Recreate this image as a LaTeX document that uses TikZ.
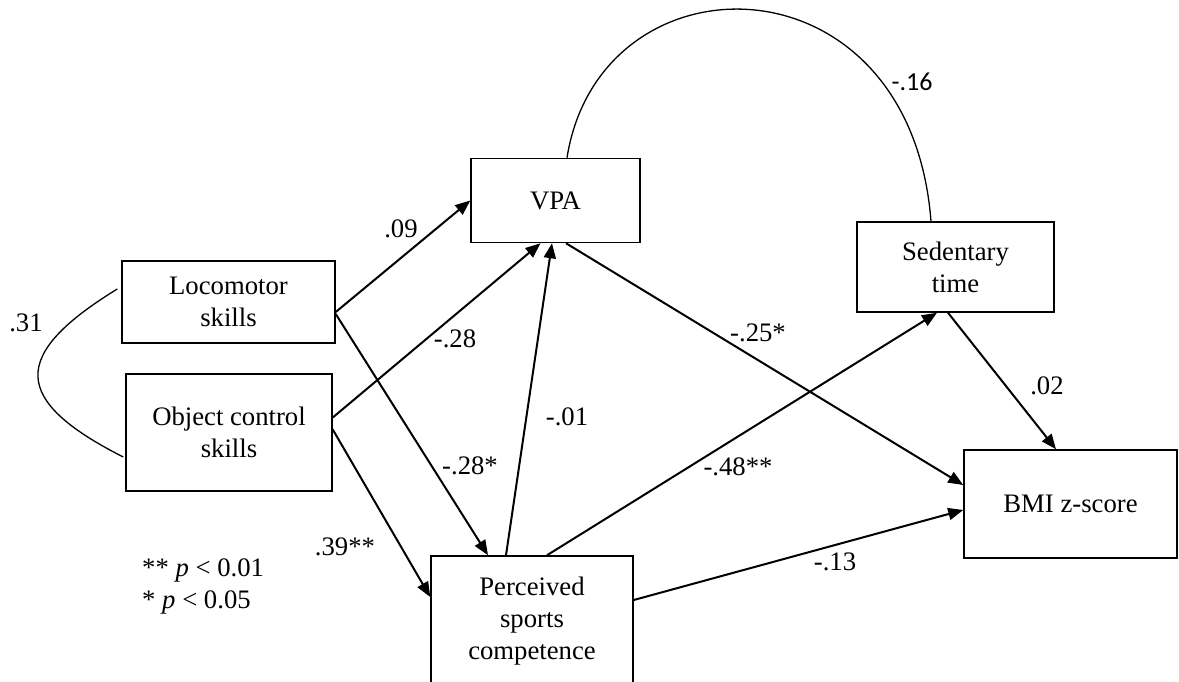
\documentclass[tikz,border=0pt]{standalone}
\usepackage{fontspec}
\setmainfont{Liberation Serif}
\newfontfamily\calibrifont{Carlito}
\usetikzlibrary{arrows.meta}

\begin{document}
\begin{tikzpicture}[x=1pt, y=-1pt,
    every node/.style={font=\fontsize{26.7}{32}\selectfont},
    box/.style={draw, line width=1.5pt, align=center, inner sep=0pt},
    effect/.style={-{Triangle[length=15pt,width=12pt]}, line width=2pt},
    corr/.style={line width=1.3pt}]
	\useasboundingbox (0,0) rectangle (1179,682);
	\clip (0,0) rectangle (1179,682);

	% variables
	\node[box, minimum width=213pt, minimum height=82pt] (loco) at (228.5,302) {Locomotor\\skills};
	\node[box, minimum width=206pt, minimum height=117pt] (obj) at (229,432.5) {Object control\\skills};
	\node[box, minimum width=169pt, minimum height=84pt] (vpa) at (555.5,200.5) {VPA};
	\node[box, minimum width=197pt, minimum height=90pt] (sed) at (955.5,267) {Sedentary\\time};
	\node[box, minimum width=213pt, minimum height=108pt] (bmi) at (1070.5,504) {BMI z-score};
	\node[box, minimum width=202pt, minimum height=130pt] (psc) at (532,621) {Perceived\\sports\\competence};

	% paths
	\draw[effect] ([yshift=-10pt]loco.east) -- (vpa.west);
	\draw[effect] ([yshift=15pt]obj.east) -- ([xshift=-15pt]vpa.south);
	\draw[effect] ([xshift=-26pt]psc.north) -- ([xshift=-3.5pt]vpa.south);
	\draw[effect] ([yshift=-12pt]loco.east) -- ([xshift=-44pt]psc.north);
	\draw[effect] ([yshift=3pt]obj.east) -- ([yshift=24pt]psc.west);
	\draw[effect] ([xshift=10.5pt]vpa.south) -- ([yshift=19pt]bmi.west);
	\draw[effect] ([xshift=15pt]psc.north) -- ([xshift=-18.5pt]sed.south);
	\draw[effect] ([yshift=21pt]psc.east) -- ([yshift=-6pt]bmi.west);
	\draw[effect] ([xshift=-7.5pt]sed.south) -- ([xshift=-14.5pt]bmi.north);

	% correlations
	\draw[corr] ([xshift=11.5pt]vpa.north) .. controls (600,-50) and (910,-50) .. ([xshift=-24.5pt]sed.north);
	\draw[corr] ([xshift=-4pt,yshift=13pt]loco.west) .. controls (10,355) and (11,400) .. ([xshift=-2pt,yshift=-24.5pt]obj.west);

	% coefficients
	\node (c09) at (401,229) {.09};
	\node (c28) at (455,339) {-.28};
	\node (c01) at (567,417) {-.01};
	\node (c28s) at (470,466) {-.28*};
	\node (c39) at (345,547) {.39**};
	\node (c25) at (758,333) {-.25*};
	\node (c48) at (738,467) {-.48**};
	\node (c13) at (835,562) {-.13};
	\node (c02) at (1047,386) {.02};
	\node[font={\calibrifont\fontsize{26}{31}\selectfont}] (c16) at (912,82) {-.16};
	\node (c31) at (26,323) {.31};

	% significance
	\node[anchor=west, align=left, inner sep=0pt] (sig) at (142,586) {** \textit{p} < 0.01\\* \textit{p} < 0.05};
\end{tikzpicture}
\end{document}
